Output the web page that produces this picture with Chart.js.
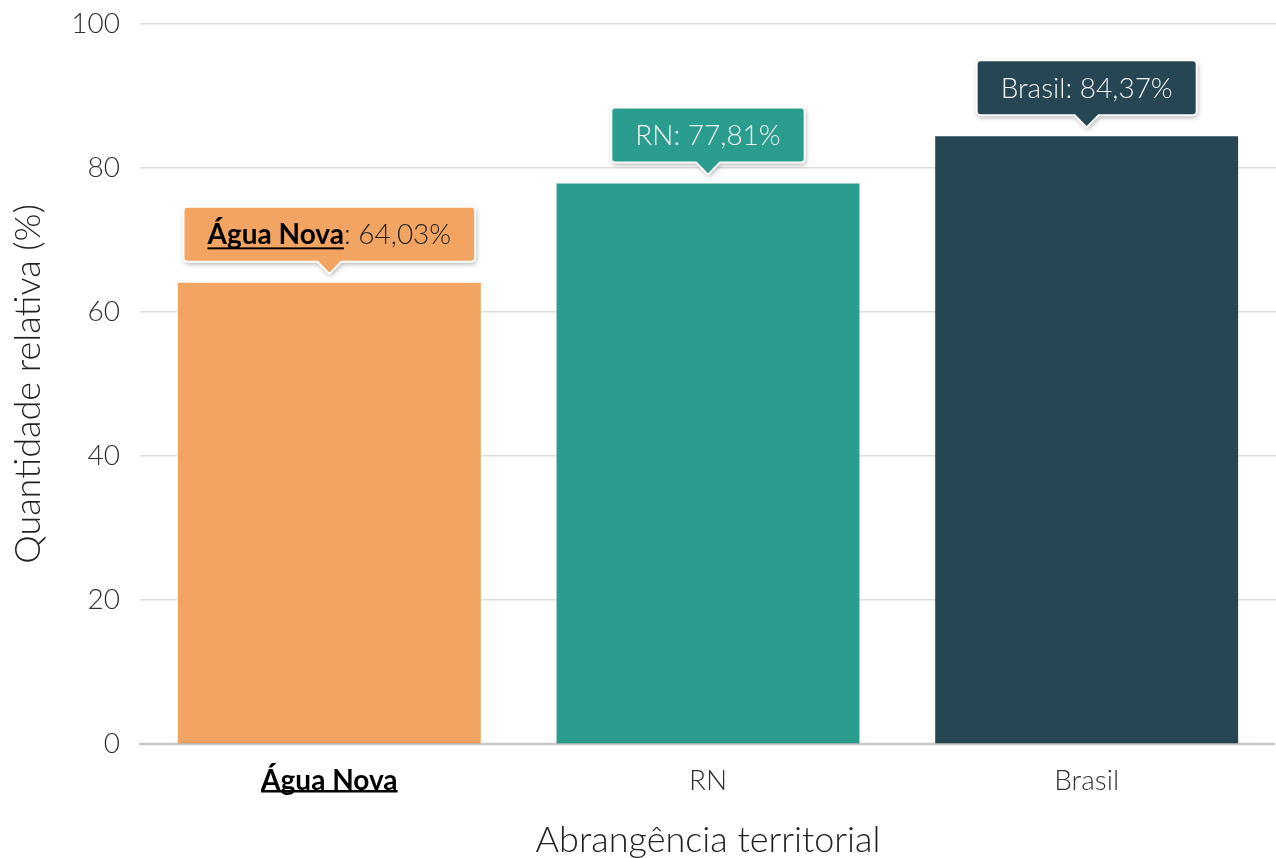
<!DOCTYPE html>
<html>
<head>
<meta charset="utf-8">
<script src="https://cdn.jsdelivr.net/npm/chart.js@4"></script>
<style>
  html, body { margin: 0; padding: 0; background: #fff; }
  #grafico { display: block; }
</style>
</head>
<body>
<canvas id="grafico" width="1276" height="858"></canvas>
<script>
// dados do gráfico
const categorias = ["Água Nova", "RN", "Brasil"];
const valores = [64.03, 77.81, 84.37];
const cores = ["#f2a462", "#2a9d8f", "#264653"];
const coresTexto = ["#222222", "#f4f4f4", "#f4f4f4"];
const eixoY = { min: 0, max: 100, passo: 20 };

const FONTE = "Lato";

function formatar(v) {
    return v.toFixed(2).replace(".", ",") + "%";
}

// caixa tipo "tooltip" com seta para baixo
function caminhoBalao(ctx, esq, topo, larg, alt, cx, seta, r) {
    const dir = esq + larg, base = topo + alt;
    ctx.beginPath();
    ctx.moveTo(esq + r, topo);
    ctx.lineTo(dir - r, topo);
    ctx.quadraticCurveTo(dir, topo, dir, topo + r);
    ctx.lineTo(dir, base - r);
    ctx.quadraticCurveTo(dir, base, dir - r, base);
    ctx.lineTo(cx + seta, base);
    ctx.lineTo(cx, base + seta);
    ctx.lineTo(cx - seta, base);
    ctx.lineTo(esq + r, base);
    ctx.quadraticCurveTo(esq, base, esq, base - r);
    ctx.lineTo(esq, topo + r);
    ctx.quadraticCurveTo(esq, topo, esq + r, topo);
    ctx.closePath();
}

function desenhaCaixa(ctx, x, y, i) {
    const destaque = i === 0;
    const resto = ": " + formatar(valores[i]);

    ctx.font = (destaque ? "700" : "300") + " 28px " + FONTE;
    const wNome = ctx.measureText(categorias[i]).width;
    ctx.font = "300 28px " + FONTE;
    const wResto = ctx.measureText(resto).width;
    const wTotal = wNome + wResto;

    const larg = wTotal + 48, alt = 55, seta = 12;
    const ponta = y - 9;
    const topo = ponta - seta - alt;
    const esq = x - larg / 2;

    ctx.save();
    ctx.shadowColor = "rgba(0,0,0,0.35)";
    ctx.shadowBlur = 5;
    ctx.shadowOffsetX = 1;
    ctx.shadowOffsetY = 2;
    caminhoBalao(ctx, esq, topo, larg, alt, x, seta, 4);
    ctx.fillStyle = cores[i];
    ctx.fill();
    ctx.shadowColor = "transparent";
    ctx.lineWidth = 2;
    ctx.strokeStyle = "#ffffff";
    ctx.stroke();

    // texto
    const tx = x - wTotal / 2;
    const ty = topo + alt / 2 + 1;
    ctx.textBaseline = "middle";
    ctx.textAlign = "left";
    if (destaque) {
        ctx.font = "700 28px " + FONTE;
        ctx.fillStyle = "#000";
        ctx.fillText(categorias[i], tx, ty);
        ctx.fillRect(tx, ty + 12, wNome, 2);
        ctx.font = "300 28px " + FONTE;
        ctx.fillStyle = coresTexto[i];
        ctx.fillText(resto, tx + wNome, ty);
    } else {
        ctx.fillStyle = coresTexto[i];
        ctx.fillText(categorias[i] + resto, tx, ty);
    }
    ctx.restore();
}

const rotulos = {
    id: "rotulos",
    afterDatasetsDraw(chart) {
        const ctx = chart.ctx;
        const area = chart.chartArea;
        const yZero = chart.scales.y.getPixelForValue(0);

        // linha do zero por cima das barras
        ctx.save();
        ctx.strokeStyle = "rgba(0,0,0,0.22)";
        ctx.lineWidth = 2.5;
        ctx.beginPath();
        ctx.moveTo(area.left - 1, yZero);
        ctx.lineTo(area.right - 1, yZero);
        ctx.stroke();
        ctx.restore();

        chart.getDatasetMeta(0).data.forEach((barra, i) => {
            desenhaCaixa(ctx, barra.x, barra.y, i);
        });
    },
    afterDraw(chart) {
        // sublinhado do rótulo em destaque no eixo x
        const ctx = chart.ctx;
        const sx = chart.scales.x;
        ctx.save();
        ctx.font = "700 28px " + FONTE;
        const w = ctx.measureText(categorias[0]).width;
        const cx = sx.getPixelForTick(0);
        ctx.fillStyle = "#000";
        ctx.fillRect(cx - w / 2, sx.top + 46, w, 2.5);
        ctx.restore();
    }
};

new Chart(document.getElementById("grafico"), {
    type: "bar",
    data: {
        labels: categorias,
        datasets: [{
            data: valores,
            backgroundColor: cores,
            barPercentage: 0.8,
            categoryPercentage: 1
        }]
    },
    options: {
        responsive: false,
        animation: false,
        layout: { padding: { top: 0, right: 0, bottom: 0, left: 0 } },
        plugins: {
            legend: { display: false },
            tooltip: { enabled: false }
        },
        scales: {
            x: {
                grid: { display: false },
                border: { display: false },
                ticks: {
                    padding: 12,
                    color: ctx => ctx.index === 0 ? "#000" : "#333",
                    font: ctx => ({ family: FONTE, size: 28, weight: ctx.index === 0 ? "700" : "300" })
                },
                title: {
                    display: true,
                    text: "Abrangência territorial",
                    color: "#222",
                    font: { family: FONTE, size: 36, weight: "300" },
                    padding: { top: 0, bottom: -4 }
                },
                afterFit: s => { s.height = 114; }
            },
            y: {
                min: eixoY.min,
                max: eixoY.max,
                border: { display: false },
                grid: {
                    drawTicks: true,
                    tickLength: 13,
                    tickColor: "rgba(0,0,0,0)",
                    lineWidth: 1.5,
                    color: ctx => ctx.tick.value === 0 ? "rgba(0,0,0,0)" : "#dedede"
                },
                ticks: {
                    stepSize: eixoY.passo,
                    padding: 7,
                    color: "#333",
                    font: { family: FONTE, size: 28, weight: "300" }
                },
                title: {
                    display: true,
                    text: "Quantidade relativa (%)",
                    color: "#222",
                    font: { family: FONTE, size: 36, weight: "300" },
                    padding: { top: 7, bottom: 0 }
                },
                afterFit: s => { s.width = 140; }
            }
        }
    },
    plugins: [rotulos]
});
</script>
</body>
</html>
